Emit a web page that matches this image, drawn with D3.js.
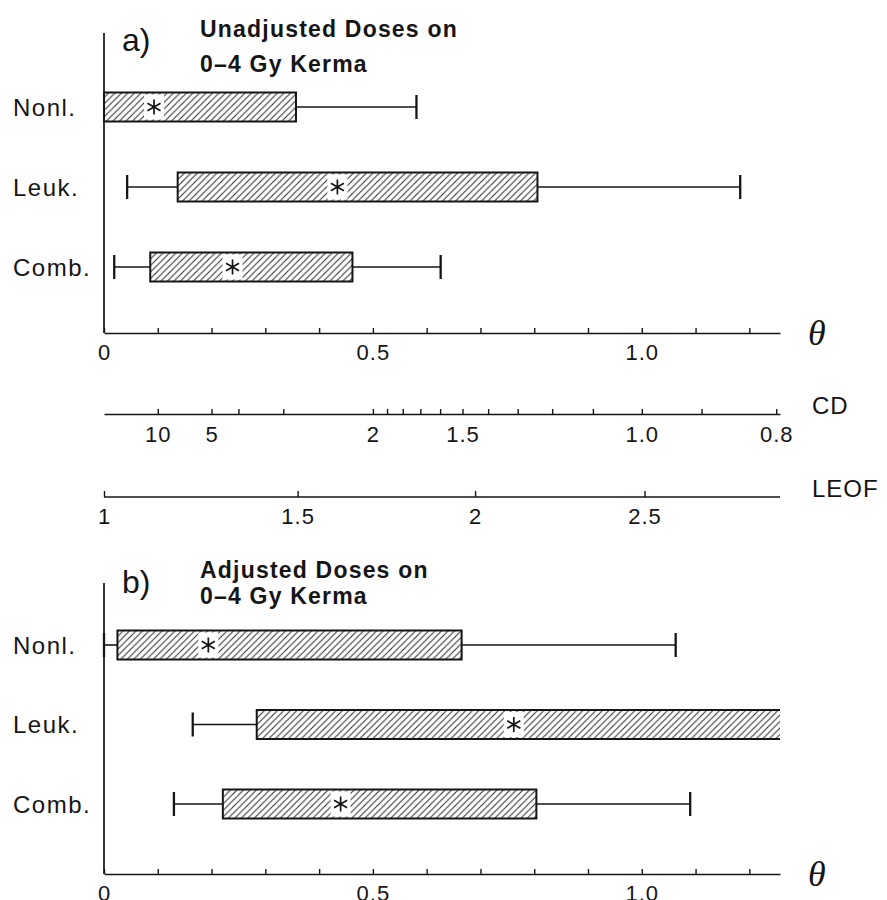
<!DOCTYPE html>
<html>
<head>
<meta charset="utf-8">
<script src="https://cdn.jsdelivr.net/npm/d3@7"></script>
<style>
  body { margin: 0; background: #fff; }
  svg text { font-family: "Liberation Sans", Arial, sans-serif; fill: #151515; }
</style>
</head>
<body>
<svg id="chart" width="887" height="900"></svg>
<script>
// categories, same in both panels
const categories = ["Nonl.", "Leuk.", "Comb."];

// a) unadjusted doses, theta values: lower whisker, box start, estimate (*), box end, upper whisker
const unadjLow  = [null, 0.043, 0.019];
const unadjFrom = [0.0, 0.137, 0.086];
const unadjEst  = [0.093, 0.434, 0.239];
const unadjTo   = [0.357, 0.806, 0.462];
const unadjHigh = [0.581, 1.183, 0.626];

// b) adjusted doses (null = runs off the end of the axis)
const adjLow  = [0.0, 0.165, 0.130];
const adjFrom = [0.025, 0.284, 0.221];
const adjEst  = [0.194, 0.762, 0.440];
const adjTo   = [0.665, null, 0.804];
const adjHigh = [1.063, null, 1.090];

// theta axis
const thetaTicks  = [0, 0.1, 0.2, 0.3, 0.4, 0.5, 0.6, 0.7, 0.8, 0.9, 1.0, 1.1, 1.2];
const thetaLabels = [0, 0.5, 1.0];

// CD axis (CD = 1/theta)
const cdTicks  = [10, 5, 4, 3, 2, 1.9, 1.8, 1.7, 1.6, 1.5, 1.4, 1.3, 1.2, 1.1, 1.0, 0.9, 0.8];
const cdLabels = [10, 5, 2, 1.5, 1.0, 0.8];

// LEOF axis: tick values and the theta they sit at
const leofTicks  = [1, 1.5, 2, 2.5];
const leofTheta  = [0, 0.36, 0.69, 1.005];
const leofLabels = ["1", "1.5", "2", "2.5"];

const ink = "#151515";
const svg = d3.select("#chart");

let x = d3.scaleLinear().domain([0, 1.257]).range([104, 780]);

// hatch fill
svg.append("defs").append("pattern")
    .attr("id", "hatch")
    .attr("patternUnits", "userSpaceOnUse")
    .attr("width", 6.5).attr("height", 6.5)
  .append("path")
    .attr("d", "M-1,1 L1,-1 M0,6.5 L6.5,0 M5.5,7.5 L7.5,5.5")
    .attr("stroke", "#2a2a2a").attr("stroke-width", 1);

const panels = [
  {tag: "a)", title: ["Unadjusted Doses on", "0\u20134 Gy Kerma"], titleY: [37, 72], tagY: 51,
   low: unadjLow, from: unadjFrom, est: unadjEst, to: unadjTo, high: unadjHigh,
   rows: [107, 267], top: 33, axisY: 333},
  {tag: "b)", title: ["Adjusted Doses on", "0\u20134 Gy Kerma"], titleY: [578, 604], tagY: 593,
   low: adjLow, from: adjFrom, est: adjEst, to: adjTo, high: adjHigh,
   rows: [645, 804], top: 583, axisY: 874}
];

const barH = 29, capH = 24;

function styleAxis(g, fontSize) {
  g.attr("font-family", null).attr("font-size", null);
  g.selectAll("path.domain").attr("stroke", ink).attr("stroke-width", 1.7);
  g.selectAll(".tick line").attr("stroke", ink).attr("stroke-width", 1.4);
  g.selectAll(".tick text").attr("fill", ink)
    .style("font-size", fontSize + "px").style("letter-spacing", "1px");
}

panels.forEach(p => {
  let y = d3.scalePoint().domain(categories).range(p.rows);
  let g = svg.append("g");

  // y axis line
  g.append("line")
    .attr("x1", x(0)).attr("x2", x(0))
    .attr("y1", p.top).attr("y2", p.axisY)
    .attr("stroke", ink).attr("stroke-width", 1.7);

  // theta axis
  let ax = g.append("g")
    .attr("transform", `translate(0,${p.axisY})`)
    .call(d3.axisBottom(x)
      .tickValues(thetaTicks)
      .tickSize(-5).tickSizeOuter(0).tickPadding(11)
      .tickFormat(d => thetaLabels.includes(d) ? (d === 0 ? "0" : d.toFixed(1)) : ""));
  styleAxis(ax, 22);

  g.append("text")
    .attr("x", 808).attr("y", p.axisY + 12)
    .style("font-family", "'Liberation Serif', 'DejaVu Serif', serif")
    .style("font-style", "italic").style("font-size", "36px")
    .text("\u03b8");

  // panel tag and title
  g.append("text")
    .attr("x", 122).attr("y", p.tagY)
    .style("font-size", "32px")
    .text(p.tag);
  p.title.forEach((t, k) => {
    g.append("text")
      .attr("x", 200).attr("y", p.titleY[k])
      .style("font-size", "23px").style("font-weight", "bold")
      .style("letter-spacing", "1.2px")
      .text(t);
  });

  // category labels
  g.selectAll("text.cat")
    .data(categories)
    .join("text")
    .attr("class", "cat")
    .attr("x", 13).attr("y", d => y(d))
    .attr("dy", "0.36em")
    .style("font-size", "24px").style("letter-spacing", "1.5px")
    .text(d => d);

  categories.forEach((c, i) => {
    let cy = y(c);
    let x0 = x(p.from[i]);
    let open = p.to[i] === null;
    let x1 = open ? x.range()[1] : x(p.to[i]);

    // lower whisker
    if (p.low[i] !== null) {
      g.append("line").attr("x1", x(p.low[i])).attr("x2", x0)
        .attr("y1", cy).attr("y2", cy).attr("stroke", ink).attr("stroke-width", 1.6);
      g.append("line").attr("x1", x(p.low[i])).attr("x2", x(p.low[i]))
        .attr("y1", cy - capH / 2).attr("y2", cy + capH / 2)
        .attr("stroke", ink).attr("stroke-width", 2.3);
    }
    // upper whisker
    if (p.high[i] !== null) {
      g.append("line").attr("x1", x1).attr("x2", x(p.high[i]))
        .attr("y1", cy).attr("y2", cy).attr("stroke", ink).attr("stroke-width", 1.6);
      g.append("line").attr("x1", x(p.high[i])).attr("x2", x(p.high[i]))
        .attr("y1", cy - capH / 2).attr("y2", cy + capH / 2)
        .attr("stroke", ink).attr("stroke-width", 2.3);
    }

    // hatched box
    g.append("rect")
      .attr("x", x0).attr("y", cy - barH / 2)
      .attr("width", x1 - x0).attr("height", barH)
      .attr("fill", "url(#hatch)");
    let outline = d3.path();
    outline.moveTo(x1, cy - barH / 2);
    outline.lineTo(x0, cy - barH / 2);
    outline.lineTo(x0, cy + barH / 2);
    outline.lineTo(x1, cy + barH / 2);
    if (!open) outline.closePath();
    g.append("path").attr("d", outline.toString())
      .attr("fill", "none").attr("stroke", ink).attr("stroke-width", 2);

    // estimate marker
    let sx = x(p.est[i]);
    g.append("rect")
      .attr("x", sx - 10).attr("y", cy - barH / 2 + 2)
      .attr("width", 20).attr("height", barH - 4)
      .attr("fill", "#fff");
    g.append("path")
      .attr("transform", `translate(${sx},${cy})`)
      .attr("d", d3.symbol(d3.symbolAsterisk, 160)())
      .attr("stroke", ink).attr("stroke-width", 1.7).attr("fill", "none");
  });
});

// CD axis
const cdY = 414;
let cd = d3.scalePow().exponent(-1).domain([Infinity, 1 / x.domain()[1]]).range(x.range());
let cdAxis = svg.append("g")
  .attr("transform", `translate(0,${cdY})`)
  .call(d3.axisBottom(cd)
    .tickValues(cdTicks)
    .tickSize(-5).tickSizeOuter(0).tickPadding(12)
    .tickFormat(d => cdLabels.includes(d) ? (d >= 2 ? String(d) : d.toFixed(1)) : ""));
styleAxis(cdAxis, 22);
svg.append("text").attr("x", 812).attr("y", cdY)
  .style("font-size", "24px").style("letter-spacing", "1px").text("CD");

// LEOF axis
const leofY = 497;
let leof = d3.scaleLinear().domain(leofTicks).range(leofTheta.map(x));
svg.append("line")
  .attr("x1", x.range()[0]).attr("x2", x.range()[1])
  .attr("y1", leofY).attr("y2", leofY)
  .attr("stroke", ink).attr("stroke-width", 1.7);
let leofAxis = svg.append("g")
  .attr("transform", `translate(0,${leofY})`)
  .call(d3.axisBottom(leof)
    .tickValues(leofTicks)
    .tickSize(-6).tickSizeOuter(0).tickPadding(11)
    .tickFormat((d, i) => leofLabels[i]));
leofAxis.select("path.domain").remove();
styleAxis(leofAxis, 22);
svg.append("text").attr("x", 812).attr("y", leofY)
  .style("font-size", "24px").style("letter-spacing", "1px").text("LEOF");
</script>
</body>
</html>
